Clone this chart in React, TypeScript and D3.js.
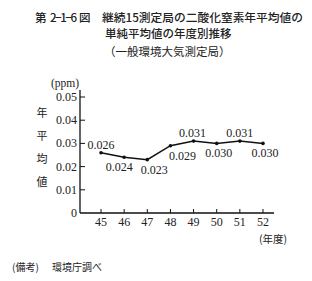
import React from "react";
import * as d3 from "d3";

const years = ["45", "46", "47", "48", "49", "50", "51", "52"];
const values = [0.026, 0.024, 0.023, 0.029, 0.031, 0.030, 0.031, 0.030];
const yTicks = [0, 0.01, 0.02, 0.03, 0.04, 0.05];
const yTitle = ["年", "平", "均", "値"];

// label placement (layout only): horizontal offset and above/below
const labelDx = [0, -5, 7, 12, -1, 2, 0, 2];
const labelAbove = [true, false, false, false, true, false, true, false];

const W = 312, H = 281;
const serif = "'Liberation Serif', 'DejaVu Serif', serif";
const jp = "'Noto Sans CJK JP', sans-serif";

export default function App() {
  const x = d3.scalePoint<string>().domain(years).range([101, 263]);
  const y = d3.scaleLinear().domain([0, 0.05]).range([213, 97]);
  const line = d3.line<number>().x((_, i) => x(years[i])!).y(d => y(d));
  const xAxisEnd = 274;
  return (
    <svg width={W} height={H} style={{ position: "absolute", left: 0, top: 0 }}>
      <rect width={W} height={H} fill="#fff" />
      <text x={35} y={22} fontFamily={jp} fontSize={11.5} fontWeight={500} fill="#222">第</text>
      <text x={50} y={22} fontFamily={jp} fontSize={11.5} fontWeight={500} fill="#222" textLength={27} lengthAdjust="spacing">2−1−6</text>
      <text x={79} y={22} fontFamily={jp} fontSize={11.5} fontWeight={500} fill="#222">図</text>
      <text x={102} y={22} fontFamily={jp} fontSize={11.5} fontWeight={500} fill="#222" textLength={201} lengthAdjust="spacingAndGlyphs">
        継続15測定局の二酸化窒素年平均値の
      </text>
      <text x={105} y={38} fontFamily={jp} fontSize={11.5} fontWeight={500} fill="#222">
        単純平均値の年度別推移
      </text>
      <text x={104} y={56} fontFamily={jp} fontSize={11.5} fill="#222">
        （一般環境大気測定局）
      </text>
      <text x={79} y={87} textAnchor="end" fontFamily={serif} fontSize={11.5} fill="#222">(ppm)</text>
      {yTitle.map((c, i) => (
        <text key={c} x={42} y={117 + i * 23} textAnchor="middle" fontFamily={jp} fontSize={11} fill="#222">{c}</text>
      ))}
      <line x1={80} x2={80} y1={y(0.05) - 7} y2={y(0)} stroke="#111" strokeWidth={1.3} />
      <line x1={80} x2={xAxisEnd} y1={y(0)} y2={y(0)} stroke="#111" strokeWidth={1.3} />
      {yTicks.map(t => (
        <g key={t}>
          {t > 0 && <line x1={80} x2={85} y1={y(t)} y2={y(t)} stroke="#111" strokeWidth={1} />}
          <text x={77} y={y(t) + 4} textAnchor="end" fontFamily={serif} fontSize={12} fill="#222">
            {t === 0 ? "0" : t.toFixed(2)}
          </text>
        </g>
      ))}
      {years.map(yr => (
        <g key={yr}>
          <line x1={x(yr)} x2={x(yr)} y1={y(0)} y2={y(0) - 4} stroke="#111" strokeWidth={1} />
          <text x={x(yr)} y={y(0) + 13} textAnchor="middle" fontFamily={serif} fontSize={12} fill="#222">{yr}</text>
        </g>
      ))}
      <text x={273} y={243} textAnchor="middle" fontFamily={jp} fontSize={10.5} fill="#222">(年度)</text>
      <path d={line(values)!} fill="none" stroke="#111" strokeWidth={1.5} />
      {values.map((v, i) => (
        <circle key={i} cx={x(years[i])} cy={y(v)} r={1.8} fill="#111" />
      ))}
      {values.map((v, i) => {
        const px = x(years[i])!;
        const py = y(v);
        const ly = labelAbove[i] ? py - 4 : py + 14;
        return (
          <text key={"l" + i} x={px + labelDx[i]} y={ly} textAnchor="middle" fontFamily={serif} fontSize={12} fill="#222">
            {v.toFixed(3)}
          </text>
        );
      })}
      <text x={12} y={271} fontFamily={jp} fontSize={10} fill="#222">(備考)</text>
      <text x={52} y={271} fontFamily={jp} fontSize={10} fill="#222">環境庁調べ</text>
    </svg>
  );
}
